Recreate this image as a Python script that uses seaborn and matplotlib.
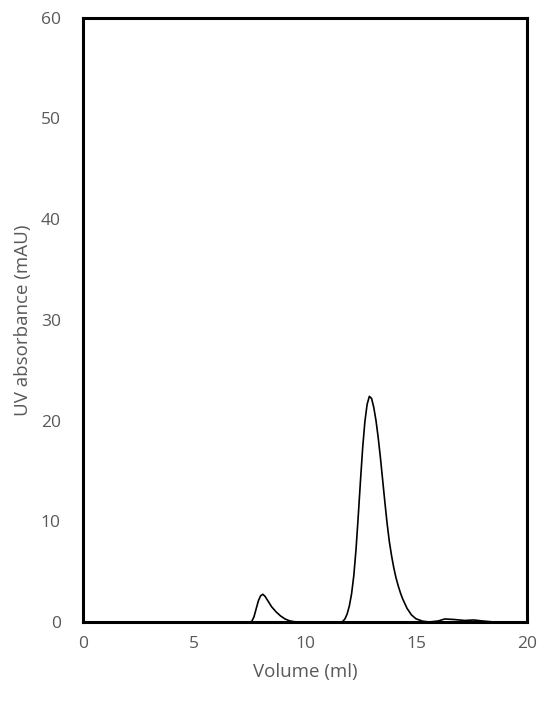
import matplotlib
matplotlib.use("Agg")
import matplotlib.pyplot as plt
import seaborn as sns
import pandas as pd

sns.set_style("white")
plt.rcParams['font.family'] = ['Open Sans', 'DejaVu Sans']

# chromatogram trace (ml, mAU)
volume = [0.0, 2.0, 4.0, 6.0, 7.0, 7.5, 7.6, 7.7, 7.8, 7.9, 8.0, 8.1, 8.2, 8.3, 8.4,
          8.5, 8.7, 8.9, 9.1, 9.3, 9.5, 9.7, 10.5, 11.0, 11.6, 11.7, 11.8, 11.9,
          12.0, 12.1, 12.2, 12.3, 12.4, 12.5, 12.6, 12.7, 12.8, 12.9, 13.0, 13.1,
          13.2, 13.3, 13.4, 13.5, 13.6, 13.7, 13.8, 13.9, 14.0, 14.1, 14.2, 14.3,
          14.4, 14.6, 14.8, 15.0, 15.3, 15.6, 16.0, 16.3, 16.7, 17.2, 17.6, 18.0,
          18.5, 19.0, 20.0]
absorbance = [0.0, 0.0, 0.0, 0.0, 0.0, 0.0, 0.05, 0.5, 1.3, 2.1, 2.6, 2.75, 2.55, 2.2, 1.85,
              1.5, 1.0, 0.6, 0.3, 0.12, 0.03, 0.0, 0.0, 0.0, 0.0, 0.05, 0.3, 0.8,
              1.6, 2.8, 4.6, 7.2, 10.5, 14.0, 17.3, 19.9, 21.6, 22.4, 22.2, 21.3,
              20.0, 18.3, 16.3, 14.1, 11.9, 9.8, 8.0, 6.6, 5.4, 4.4, 3.6, 2.9,
              2.3, 1.35, 0.7, 0.32, 0.08, 0.0, 0.1, 0.3, 0.25, 0.15, 0.2, 0.1,
              0.0, 0.0, 0.0]

x_ticks = [0, 5, 10, 15, 20]
y_ticks = [0, 10, 20, 30, 40, 50, 60]

df = pd.DataFrame({"Volume": volume, "UV": absorbance})

fig = plt.figure(figsize=(5.5, 7.06), dpi=100)
ax = fig.add_axes([0.151, 0.119, 0.807, 0.856])

sns.lineplot(data=df, x="Volume", y="UV", ax=ax, color="black", linewidth=1.2)

ax.set_xlim(0, 20)
ax.set_ylim(0, 60)
ax.set_xticks(x_ticks)
ax.set_yticks(y_ticks)

grey = "#595959"
ax.tick_params(axis="both", length=0, labelsize=12.5, labelcolor=grey)
ax.tick_params(axis="y", pad=16)
ax.tick_params(axis="x", pad=10)

ax.set_xlabel("Volume (ml)", fontsize=13.5, color=grey, labelpad=8)
ax.set_ylabel("UV absorbance (mAU)", fontsize=13.5, color=grey, labelpad=6)

for s in ax.spines.values():
    s.set_visible(True)
    s.set_color("black")
    s.set_linewidth(2.2)

fig.savefig("out.png", dpi=100)
